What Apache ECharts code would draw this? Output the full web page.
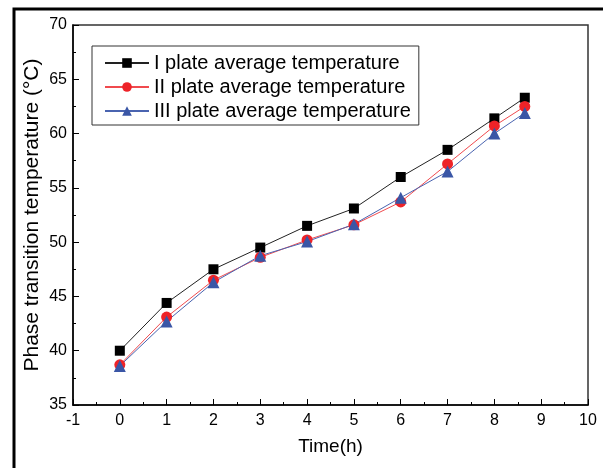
<!DOCTYPE html>
<html>
<head>
<meta charset="utf-8">
<script src="https://cdn.jsdelivr.net/npm/echarts@6/dist/echarts.min.js"></script>
<style>
html,body{margin:0;padding:0;background:#fff;}
#main{width:603px;height:468px;}
</style>
</head>
<body>
<div id="main"></div>
<script>
// time points (h)
var hours = [0, 1, 2, 3, 4, 5, 6, 7, 8, 8.65];
// plate temps
var plate1 = [40.0, 44.4, 47.5, 49.5, 51.5, 53.1, 56.0, 58.5, 61.4, 63.3];
var plate2 = [38.7, 43.1, 46.5, 48.6, 50.2, 51.6, 53.7, 57.2, 60.7, 62.5];
var plate3 = [38.6, 42.7, 46.3, 48.75, 50.05, 51.65, 54.1, 56.5, 60.0, 61.9];
var names = ['I plate average temperature', 'II plate average temperature', 'III plate average temperature'];

function pairs(ys){
    var out = [];
    for (var i = 0; i < hours.length; i++) out.push([hours[i], ys[i]]);
    return out;
}

var chart = echarts.init(document.getElementById('main'));
var font = 'Liberation Sans, Arial, sans-serif';

var option = {
    animation: false,
    backgroundColor: '#fff',
    textStyle: {fontFamily: font},
    graphic: [{
        type: 'rect',
        shape: {x: 14, y: 9, width: 620, height: 480},
        style: {fill: 'none', stroke: '#000', lineWidth: 3},
        silent: true
    }],
    grid: {left: 73, right: 15, top: 25, bottom: 63, show: true, borderColor: '#333', borderWidth: 1.5},
    legend: {
        data: names,
        orient: 'vertical',
        left: 92,
        top: 46,
        itemWidth: 44,
        itemHeight: 12,
        itemGap: 4,
        padding: [7, 8, 4, 12],
        borderColor: '#333',
        borderWidth: 1,
        textStyle: {fontSize: 20, color: '#000', fontFamily: font}
    },
    xAxis: {
        type: 'value',
        min: -1, max: 10, interval: 1,
        name: 'Time(h)',
        nameLocation: 'middle',
        nameGap: 32,
        nameMoveOverlap: false,
        nameTextStyle: {fontSize: 19, color: '#000'},
        axisLine: {onZero: false, lineStyle: {color: '#000', width: 1.5}},
        axisTick: {inside: true, length: 6, lineStyle: {color: '#000'}},
        minorTick: {show: true, splitNumber: 2, length: 3, lineStyle: {color: '#000'}},
        axisLabel: {fontSize: 16, color: '#000', margin: 8},
        splitLine: {show: false}
    },
    yAxis: {
        type: 'value',
        min: 35, max: 70, interval: 5,
        name: 'Phase transition temperature (°C)',
        nameLocation: 'middle',
        nameGap: 30,
        nameMoveOverlap: false,
        nameTextStyle: {fontSize: 21, color: '#000'},
        axisLine: {show: true, onZero: false, lineStyle: {color: '#000', width: 1.5}},
        axisTick: {show: true, inside: true, length: 6, lineStyle: {color: '#000'}},
        minorTick: {show: true, splitNumber: 2, length: 3, lineStyle: {color: '#000'}},
        axisLabel: {fontSize: 16, color: '#000', margin: 6},
        splitLine: {show: false}
    },
    series: [
        {
            name: names[0], type: 'line', data: pairs(plate1),
            symbol: 'rect', symbolSize: 10,
            itemStyle: {color: '#000'},
            lineStyle: {color: '#222', width: 1}
        },
        {
            name: names[1], type: 'line', data: pairs(plate2),
            symbol: 'circle', symbolSize: 11,
            itemStyle: {color: '#ee2328'},
            lineStyle: {color: '#f04a4e', width: 1}
        },
        {
            name: names[2], type: 'line', data: pairs(plate3),
            symbol: 'triangle', symbolSize: 12,
            itemStyle: {color: '#3a56a6'},
            lineStyle: {color: '#4a64b0', width: 1}
        }
    ]
};
chart.setOption(option);
</script>
</body>
</html>
